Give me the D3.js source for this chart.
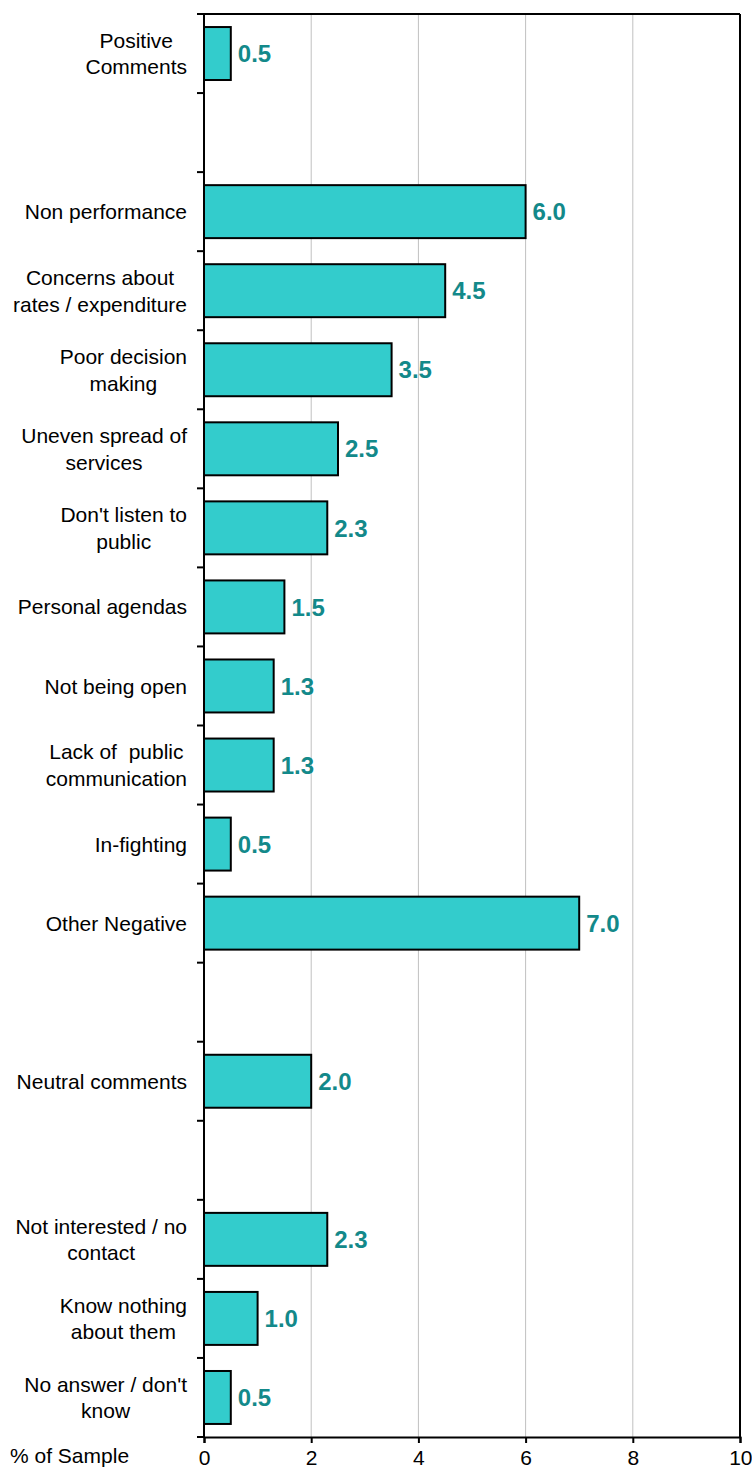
<!DOCTYPE html>
<html lang="en">
<head>
    <meta charset="UTF-8">
    <title>% of Sample</title>
    <style>
        body {
            margin: 0;
            background: #ffffff;
            font-family: Arial, "Liberation Sans", sans-serif;
        }
        .cat-label {
            font-size: 21px;
            fill: #000000;
            white-space: pre;
        }
        .value-label {
            font-size: 24px;
            font-weight: bold;
            fill: #13898a;
        }
    </style>
</head>
<body>
    <div id="chart"></div>

    <script src="https://d3js.org/d3.v7.min.js"></script>
    <script>
        // categories (blank strings are empty spacer rows), "\n" = line break
        var categories = [
            "Positive\nComments",
            "",
            "Non performance",
            "Concerns about\nrates / expenditure",
            "Poor decision\nmaking",
            "Uneven spread of\nservices",
            "Don't listen to\npublic",
            "Personal agendas",
            "Not being open",
            "Lack of  public\ncommunication",
            "In-fighting",
            "Other Negative",
            "",
            "Neutral comments",
            "",
            "Not interested / no\ncontact",
            "Know nothing\nabout them",
            "No answer / don't\nknow"
        ];
        var values = [0.5, null, 6.0, 4.5, 3.5, 2.5, 2.3, 1.5, 1.3, 1.3, 0.5, 7.0, null, 2.0, null, 2.3, 1.0, 0.5];
        var xTicks = [0, 2, 4, 6, 8, 10];
        var axisTitle = "% of Sample";

        var width = 752, height = 1475;
        var margin = { top: 14, right: 12, bottom: 38, left: 204 };
        var plotW = width - margin.left - margin.right;
        var plotH = height - margin.top - margin.bottom;

        var svg = d3.select("#chart")
            .append("svg")
            .attr("width", width)
            .attr("height", height);

        var g = svg.append("g")
            .attr("transform", "translate(" + margin.left + "," + margin.top + ")");

        var x = d3.scaleLinear().domain([0, 10]).range([0, plotW]);
        var y = d3.scaleBand()
            .domain(d3.range(categories.length))
            .range([0, plotH])
            .paddingInner(0.33)
            .paddingOuter(0.165);

        // gridlines
        g.selectAll(".grid")
            .data(xTicks.filter(function(t) { return t > 0; }))
            .enter()
            .append("line")
            .attr("x1", function(d) { return x(d); })
            .attr("x2", function(d) { return x(d); })
            .attr("y1", 0)
            .attr("y2", plotH)
            .attr("stroke", "#c0c0c0")
            .attr("stroke-width", 1);

        // bars
        var rows = categories.map(function(c, i) { return { i: i, label: c, value: values[i] }; });
        var barRows = rows.filter(function(d) { return d.value !== null; });

        g.selectAll(".bar")
            .data(barRows)
            .enter()
            .append("rect")
            .attr("class", "bar")
            .attr("x", 0)
            .attr("y", function(d) { return y(d.i); })
            .attr("width", function(d) { return x(d.value); })
            .attr("height", y.bandwidth())
            .attr("fill", "#33cccc")
            .attr("stroke", "#000000")
            .attr("stroke-width", 2);

        // value labels
        g.selectAll(".value-label")
            .data(barRows)
            .enter()
            .append("text")
            .attr("class", "value-label")
            .attr("x", function(d) { return x(d.value) + 7; })
            .attr("y", function(d) { return y(d.i) + y.bandwidth() / 2; })
            .attr("dy", "0.36em")
            .text(function(d) { return d.value.toFixed(1); });

        // frame: top and right
        g.append("line")
            .attr("x1", 0).attr("x2", plotW)
            .attr("y1", 0).attr("y2", 0)
            .attr("stroke", "#000").attr("stroke-width", 2);
        g.append("line")
            .attr("x1", plotW).attr("x2", plotW)
            .attr("y1", 0).attr("y2", plotH)
            .attr("stroke", "#000").attr("stroke-width", 2);

        // left axis with ticks at slot boundaries
        var step = y.step();
        g.append("line")
            .attr("x1", 0).attr("x2", 0)
            .attr("y1", -1).attr("y2", plotH + 1)
            .attr("stroke", "#000").attr("stroke-width", 2);
        g.selectAll(".ytick")
            .data(d3.range(categories.length + 1))
            .enter()
            .append("line")
            .attr("x1", -7).attr("x2", 0)
            .attr("y1", function(d) { return d * step; })
            .attr("y2", function(d) { return d * step; })
            .attr("stroke", "#000").attr("stroke-width", 2);

        // bottom axis
        var xAxis = d3.axisBottom(x)
            .tickValues(xTicks)
            .tickSize(6)
            .tickFormat(d3.format("d"));
        var xg = g.append("g")
            .attr("transform", "translate(0," + plotH + ")")
            .call(xAxis);
        xg.attr("font-size", 21).attr("font-family", "Arial, 'Liberation Sans', sans-serif");
        xg.select(".domain").attr("stroke", "#000").attr("stroke-width", 2);
        xg.selectAll(".tick line").attr("stroke", "#000").attr("stroke-width", 2);
        xg.selectAll(".tick text")
            .attr("y", 13)
            .attr("dy", "0.71em")
            .attr("fill", "#000");
        // last label sits at the right edge, keep it inside the picture
        xg.selectAll(".tick text")
            .filter(function(d) { return d === 10; })
            .attr("text-anchor", "end")
            .attr("x", 12);

        // axis title
        svg.append("text")
            .attr("class", "cat-label")
            .attr("x", 10)
            .attr("y", 1463)
            .text(axisTitle);

        // category labels: lines centred with each other, block right-aligned
        var lineH = 26.5;
        var labelRight = 187;
        rows.filter(function(d) { return d.label !== ""; }).forEach(function(d) {
            var lines = d.label.split("\n");
            var cy = margin.top + y(d.i) + y.bandwidth() / 2;
            var y0 = cy - (lines.length - 1) * lineH / 2;
            var lg = svg.append("g");
            var texts = lines.map(function(line, k) {
                return lg.append("text")
                    .attr("class", "cat-label")
                    .attr("y", y0 + k * lineH)
                    .attr("dy", "0.36em")
                    .attr("text-anchor", "middle")
                    .text(line);
            });
            var maxW = d3.max(texts, function(t) { return t.node().getComputedTextLength(); });
            texts.forEach(function(t) { t.attr("x", labelRight - maxW / 2); });
        });
    </script>
</body>
</html>
